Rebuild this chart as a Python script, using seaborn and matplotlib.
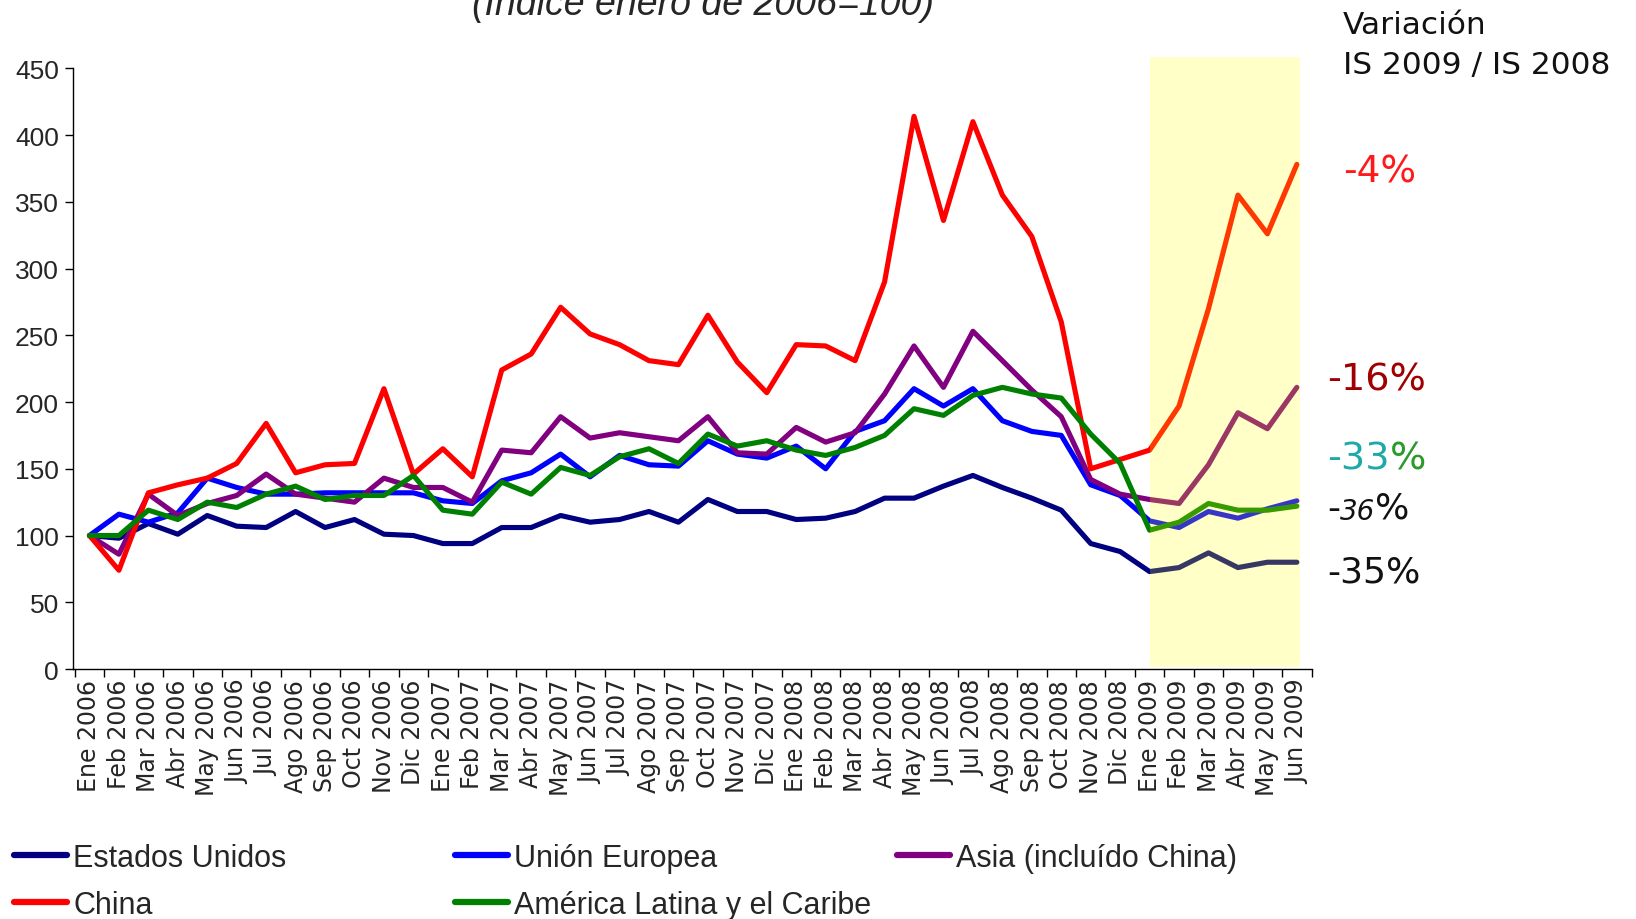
import matplotlib
matplotlib.use('Agg')
import pandas as pd
import matplotlib.pyplot as plt
import seaborn as sns
from matplotlib.lines import Line2D

sns.set_theme(style='white')
plt.rcParams['font.family'] = ['Liberation Sans', 'DejaVu Sans']

meses = ['Ene', 'Feb', 'Mar', 'Abr', 'May', 'Jun', 'Jul', 'Ago', 'Sep', 'Oct', 'Nov', 'Dic']
etiquetas = [f'{m} {a}' for a in (2006, 2007, 2008) for m in meses] + [f'{m} 2009' for m in meses[:6]]

estados_unidos = [100, 98, 109, 101, 115, 107, 106, 118, 106, 112, 101, 100,
                  94, 94, 106, 106, 115, 110, 112, 118, 110, 127, 118, 118,
                  112, 113, 118, 128, 128, 137, 145, 136, 128, 119, 94, 88,
                  73, 76, 87, 76, 80, 80]
union_europea = [100, 116, 110, 117, 143, 136, 131, 131, 132, 132, 132, 132,
                 126, 124, 141, 147, 161, 144, 160, 153, 152, 171, 161, 158,
                 167, 150, 178, 186, 210, 197, 210, 186, 178, 175, 138, 130,
                 111, 106, 118, 113, 120, 126]
asia = [100, 86, 131, 115, 124, 130, 146, 131, 128, 125, 143, 136,
        136, 125, 164, 162, 189, 173, 177, 174, 171, 189, 162, 161,
        181, 170, 177, 206, 242, 211, 253, 231, 209, 189, 142, 131,
        127, 124, 153, 192, 180, 211]
china = [100, 74, 132, 138, 143, 154, 184, 147, 153, 154, 210, 146,
         165, 144, 224, 236, 271, 251, 243, 231, 228, 265, 230, 207,
         243, 242, 231, 290, 414, 336, 410, 355, 324, 260, 150, 157,
         164, 197, 270, 355, 326, 378]
america_latina = [100, 100, 119, 112, 125, 121, 131, 137, 127, 130, 130, 145,
                  119, 116, 140, 131, 151, 145, 159, 165, 154, 176, 167, 171,
                  164, 160, 166, 175, 195, 190, 205, 211, 206, 203, 176, 154,
                  104, 110, 124, 119, 119, 122]

regiones = ['Estados Unidos', 'Unión Europea', 'Asia (incluído China)', 'China',
            'América Latina y el Caribe']
colores = ['#000080', '#0000FF', '#800080', '#FF0000', '#008000']
paleta = dict(zip(regiones, colores))

tabla = pd.DataFrame({'mes': range(len(etiquetas)),
                      regiones[0]: estados_unidos,
                      regiones[1]: union_europea,
                      regiones[2]: asia,
                      regiones[3]: china,
                      regiones[4]: america_latina})
largo = tabla.melt(id_vars='mes', var_name='region', value_name='indice')

fig = plt.figure(figsize=(16.36, 9.2), dpi=100)
ax = fig.add_axes([0.0446, 0.2717, 0.7571, 0.653])

for reg in regiones:
    sns.lineplot(data=largo[largo['region'] == reg], x='mes', y='indice',
                 color=paleta[reg], linewidth=3.7, ax=ax, legend=False)

# franja amarilla del primer semestre 2009 (encima de las lineas)
ax.axvspan(36.0, 41.1, ymin=0.003, ymax=1.018, color='#FFFF00', alpha=0.22,
           lw=0, zorder=5, clip_on=False)

ax.set_xlim(-0.56, len(etiquetas) - 0.56)
ax.set_ylim(0, 450)
ax.set_yticks(range(0, 451, 50))
ax.set_xticks(range(len(etiquetas)))
ax.set_xticklabels(etiquetas, rotation=90, fontsize=17, family='DejaVu Sans',
                   va='top')
ax.set_xticks([i + 0.5 for i in range(-1, len(etiquetas))], minor=True)
ax.tick_params(axis='x', which='major', length=0, pad=7)
ax.tick_params(axis='x', which='minor', bottom=True, length=6, width=1, color='black',
               direction='out')
ax.tick_params(axis='y', left=True, length=6, width=1, color='black', direction='out',
               labelsize=19, pad=4)
ax.set_xlabel('')
ax.set_ylabel('')
for lado in ['top', 'right']:
    ax.spines[lado].set_visible(False)
for lado in ['left', 'bottom']:
    ax.spines[lado].set_color('black')
    ax.spines[lado].set_linewidth(1)

fig.text(0.43, 0.9837, '(Índice enero de 2006=100)', fontsize=27, style='italic',
         ha='center', va='baseline')

# leyenda en tres columnas
columnas = [([0, 3], 0.0085), ([1, 4], 0.278), ([2], 0.548)]
for idx, x0 in columnas:
    manejadores = [Line2D([], [], color=colores[i], lw=4.5) for i in idx]
    nombres = [regiones[i] for i in idx]
    fig.legend(manejadores, nombres, loc='upper left', bbox_to_anchor=(x0, 0.083),
               frameon=False, fontsize=22, handlelength=1.75, handletextpad=0.2,
               borderpad=0, borderaxespad=0, labelspacing=0.56)

# variaciones a la derecha
fv = 'DejaVu Sans'
fig.text(0.821, 0.972, 'Variación', fontsize=22.5, family=fv, color='#111111', va='center')
fig.text(0.821, 0.929, 'IS 2009 / IS 2008', fontsize=22.5, family=fv, color='#111111',
         va='center')
fig.text(0.821, 0.813, '-4%', fontsize=27, family=fv, color='#FF1A1A', va='center')
fig.text(0.811, 0.586, '-16%', fontsize=27.5, family=fv, color='#A00000', va='center')
t33 = fig.text(0.811, 0.501, '-33', fontsize=27.5, family=fv, color='#1FA8A8', va='center')
ax.annotate('%', xy=(1, 0), xycoords=t33, fontsize=27.5, family=fv, color='#2A9A2A',
            va='bottom', ha='left')
t36 = fig.text(0.811, 0.447, '-', fontsize=26, family=fv, color='#111111', va='center')
t36b = ax.annotate('36', xy=(1, 0), xycoords=t36, fontsize=20, family=fv, style='italic',
                   color='#111111', va='bottom', ha='left')
ax.annotate('%', xy=(1, 0), xycoords=t36b, fontsize=26, family=fv, color='#111111',
            va='bottom', ha='left')
fig.text(0.811, 0.378, '-35%', fontsize=26, family=fv, color='#111111', va='center')

fig.savefig('out.png', dpi=100)
